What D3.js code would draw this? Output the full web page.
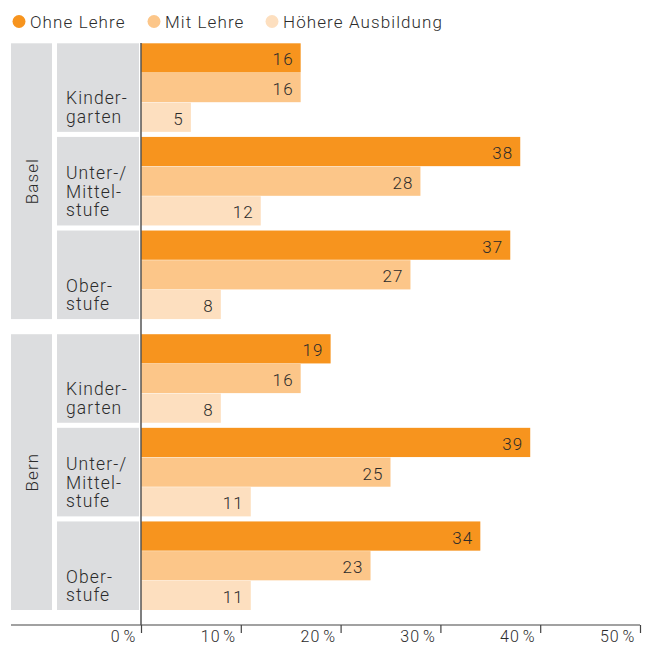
<!DOCTYPE html>
<html>
<head>
<meta charset="utf-8">
<script src="https://cdn.jsdelivr.net/npm/d3@7"></script>
<style>
body{margin:0;background:#fff;}
svg text{font-family:Roboto,"DejaVu Sans",sans-serif;font-weight:300;fill:#2b2b2b;letter-spacing:1.1px;}
</style>
</head>
<body>
<div id="chart"></div>
<script>
// data
var cities = ["Basel", "Bern"];
var levels = ["Kindergarten", "Unter-/Mittelstufe", "Oberstufe"];
var levelLines = [["Kinder-", "garten"], ["Unter-/", "Mittel-", "stufe"], ["Ober-", "stufe"]];
var seriesNames = ["Ohne Lehre", "Mit Lehre", "Höhere Ausbildung"];
var colors = ["#f7941e", "#fcc689", "#fddfbf"];
// order: Basel (Kinder, Unter, Ober), Bern (Kinder, Unter, Ober)
var ohneLehre = [16, 38, 37, 19, 39, 34];
var mitLehre = [16, 28, 27, 16, 25, 23];
var hoehereAusb = [5, 12, 8, 8, 11, 11];
var xTicks = [0, 10, 20, 30, 40, 50];

var width = 649, height = 645;
var svg = d3.select("#chart").append("svg")
	.attr("width", width)
	.attr("height", height);

//scales
var xscale = d3.scaleLinear().domain([0, 50]).range([141, 640]);
var cityScale = d3.scaleBand().domain(cities).range([43.3, 610]).paddingInner(0.052);
var levelScale = d3.scaleBand().domain(levels).range([0, cityScale.bandwidth()]).paddingInner(0.054);
var barScale = d3.scaleBand().domain(seriesNames).range([0, levelScale.bandwidth()]).paddingInner(0.015);

var allSeries = [ohneLehre, mitLehre, hoehereAusb];

// legend
var legendX = [19, 154, 272];
var legend = svg.selectAll(".legend")
	.data(seriesNames)
	.enter().append("g")
	.attr("transform", function(d, i) { return "translate(" + legendX[i] + ",21.5)"; });
legend.append("circle")
	.attr("r", 6.5)
	.style("fill", function(d, i) { return colors[i]; });
legend.append("text")
	.attr("x", 11)
	.attr("y", 6)
	.attr("font-size", 17)
	.text(function(d) { return d; });

cities.forEach(function(city, ci) {
	var cy = cityScale(city);
	// outer panel
	svg.append("rect")
		.attr("x", 11).attr("y", cy)
		.attr("width", 41).attr("height", cityScale.bandwidth())
		.style("fill", "#dcdddf");
	svg.append("text")
		.attr("transform", "translate(38," + (cy + cityScale.bandwidth() / 2) + ") rotate(-90)")
		.attr("text-anchor", "middle")
		.attr("font-size", 17)
		.text(city);

	levels.forEach(function(lvl, li) {
		var gy = cy + levelScale(lvl);
		var gh = levelScale.bandwidth();
		svg.append("rect")
			.attr("x", 57).attr("y", gy)
			.attr("width", 82).attr("height", gh)
			.style("fill", "#dcdddf");
		var lines = levelLines[li];
		var t = svg.append("text").attr("font-size", 17.5);
		lines.forEach(function(l, k) {
			t.append("tspan")
				.attr("x", 66)
				.attr("y", gy + gh - 9 - (lines.length - 1 - k) * 18.5)
				.text(l);
		});

		var idx = ci * 3 + li;
		seriesNames.forEach(function(s, si) {
			var v = allSeries[si][idx];
			var by = gy + barScale(s);
			svg.append("rect")
				.attr("x", xscale(0))
				.attr("y", by)
				.attr("width", xscale(v) - xscale(0))
				.attr("height", barScale.bandwidth())
				.style("fill", colors[si]);
			svg.append("text")
				.attr("x", xscale(v) - 7)
				.attr("y", by + barScale.bandwidth() / 2 + 7.5)
				.attr("text-anchor", "end")
				.attr("font-size", 17)
				.text(v);
		});
	});
});

// x axis
var axisY = 625;
var x_axis = d3.axisBottom(xscale)
	.tickValues(xTicks)
	.tickSize(8)
	.tickSizeOuter(0)
	.tickFormat(function(d) { return d + "\u200a%"; });
var ax = svg.append("g")
	.attr("transform", "translate(0," + axisY + ")")
	.call(x_axis);
ax.select(".domain").remove();
ax.selectAll(".tick line").attr("stroke", "#444").attr("stroke-width", 1.2);
ax.selectAll(".tick text")
	.attr("text-anchor", "end")
	.attr("x", -5)
	.attr("y", 16.5)
	.attr("dy", 0)
	.attr("font-size", 16)
	.attr("font-family", null);
svg.append("line")
	.attr("x1", 11).attr("x2", xscale(50))
	.attr("y1", axisY).attr("y2", axisY)
	.attr("stroke", "#444").attr("stroke-width", 1.2);
// zero line
svg.append("line")
	.attr("x1", xscale(0)).attr("x2", xscale(0))
	.attr("y1", 43).attr("y2", axisY)
	.attr("stroke", "#555").attr("stroke-width", 1.5);
</script>
</body>
</html>
